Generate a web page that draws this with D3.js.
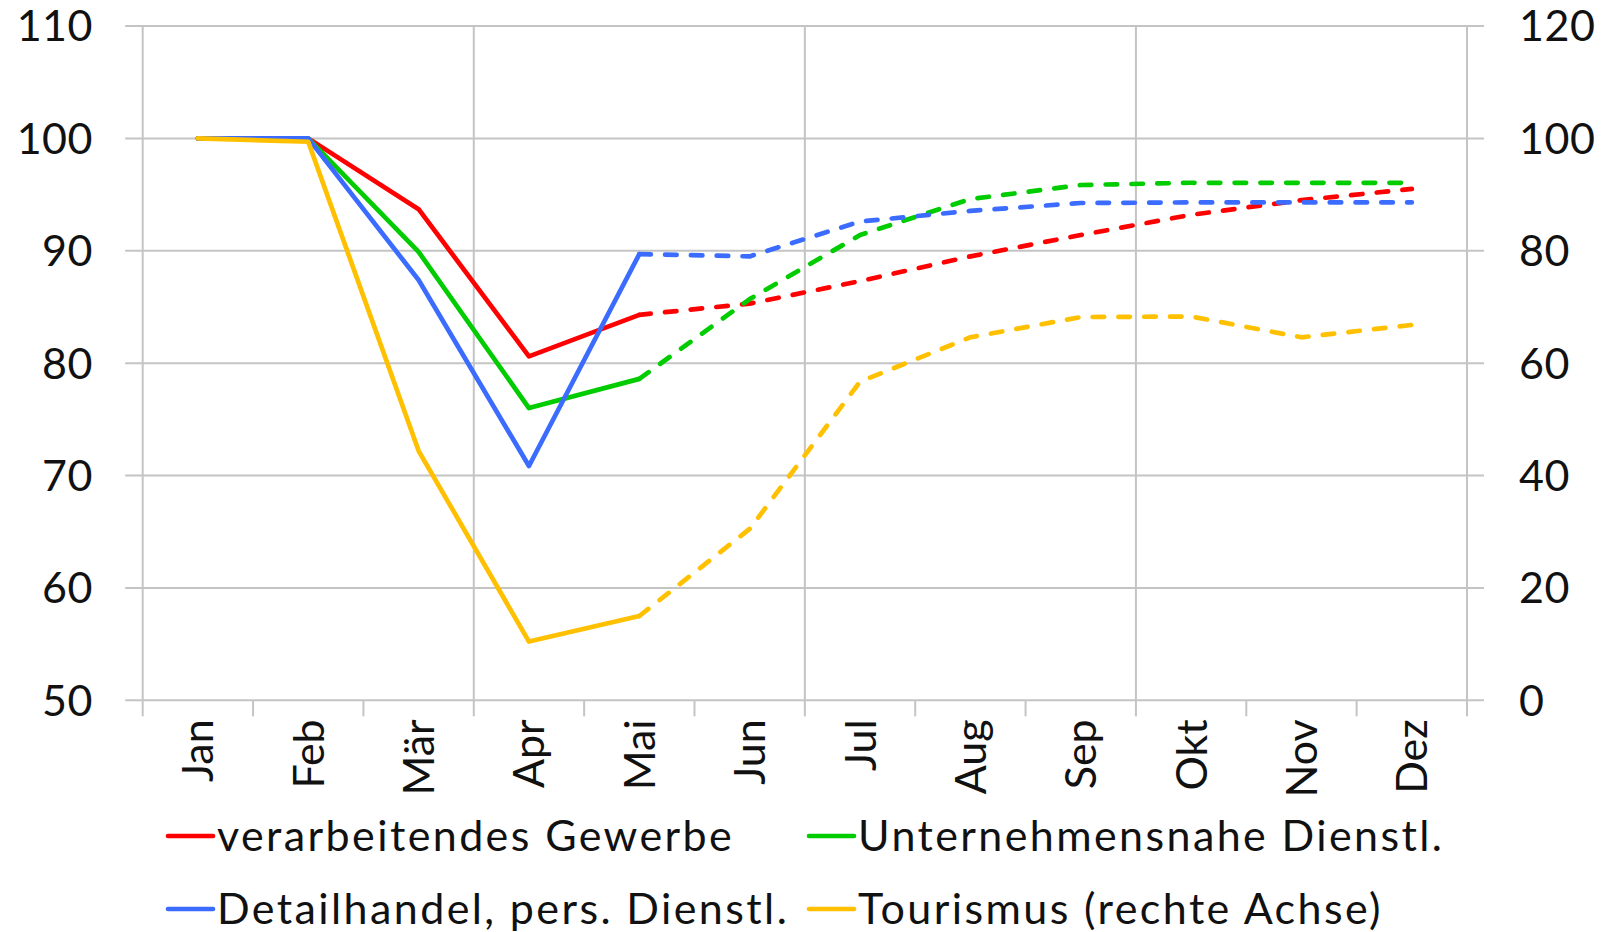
<!DOCTYPE html>
<html>
<head>
<meta charset="utf-8">
<script src="https://cdn.jsdelivr.net/npm/d3@7"></script>
<style>
  html, body { margin: 0; padding: 0; background: #fff; }
  svg { display: block; }
  text { font-family: Lato, "Open Sans", sans-serif; fill: #111; }
</style>
</head>
<body>
<svg id="chart" width="1603" height="932"></svg>
<script>
// Months (categories)
const months = ["Jan", "Feb", "Mär", "Apr", "Mai", "Jun", "Jul", "Aug", "Sep", "Okt", "Nov", "Dez"];

// Index values, Jan = 100 (left axis)
const gewerbe      = [100, 100, 93.7, 80.6, 84.3, 85.3, 87.3, 89.5, 91.4, 93.2, 94.5, 95.5];
const unternehmen  = [100, 100, 89.9, 76.0, 78.6, 85.7, 91.4, 94.6, 95.85, 96.05, 96.05, 96.05];
const detailhandel = [100, 100, 87.4, 70.85, 89.7, 89.5, 92.6, 93.55, 94.25, 94.3, 94.3, 94.3];
// Tourism index (right axis)
const tourismus    = [100, 99.4, 44.4, 10.45, 15.0, 30.5, 56.7, 64.6, 68.2, 68.3, 64.6, 66.8];

// Index of the last observed month; later months are projections
const lastActual = 4;

const leftTicks  = [50, 60, 70, 80, 90, 100, 110];
const rightTicks = [0, 20, 40, 60, 80, 100, 120];

const seriesNames = ["verarbeitendes Gewerbe", "Unternehmensnahe Dienstl.", "Detailhandel, pers. Dienstl.", "Tourismus (rechte Achse)"];

const svg = d3.select("#chart");

const plot = { left: 142.7, right: 1467, top: 26, bottom: 700.3 };
const gridColor = "#c4c4c4";
const lineWidth = 4.7;

const x = d3.scaleBand().domain(months).range([plot.left, plot.right]);
const yL = d3.scaleLinear().domain([50, 110]).range([plot.bottom, plot.top]);
const yR = d3.scaleLinear().domain([0, 120]).range([plot.bottom, plot.top]);

// Horizontal gridlines (shared by both axes), extended as tick marks on both sides
svg.append("g").selectAll("line").data(leftTicks).join("line")
  .attr("x1", plot.left - 17.5).attr("x2", plot.right + 17)
  .attr("y1", d => yL(d)).attr("y2", d => yL(d))
  .attr("stroke", gridColor).attr("stroke-width", 2);

// Vertical gridlines every quarter
const quarterEdges = [0, 3, 6, 9, 12].map(i => i < 12 ? x(months[i]) : x(months[11]) + x.bandwidth());
svg.append("g").selectAll("line").data(quarterEdges).join("line")
  .attr("x1", d => d).attr("x2", d => d)
  .attr("y1", plot.top).attr("y2", plot.bottom)
  .attr("stroke", gridColor).attr("stroke-width", 2);

// Category tick marks below the plot
const catEdges = months.map(m => x(m)).concat([x(months[11]) + x.bandwidth()]);
svg.append("g").selectAll("line").data(catEdges).join("line")
  .attr("x1", d => d).attr("x2", d => d)
  .attr("y1", plot.bottom).attr("y2", plot.bottom + 16)
  .attr("stroke", gridColor).attr("stroke-width", 2);

// Left axis labels
svg.append("g").selectAll("text").data(leftTicks).join("text")
  .attr("x", 93).attr("y", d => yL(d)).attr("dy", "0.36em")
  .attr("text-anchor", "end").attr("font-size", 43).attr("letter-spacing", 0.5)
  .text(d => d);

// Right axis labels
svg.append("g").selectAll("text").data(rightTicks).join("text")
  .attr("x", 1519).attr("y", d => yR(d)).attr("dy", "0.36em")
  .attr("text-anchor", "start").attr("font-size", 43).attr("letter-spacing", 0.5)
  .text(d => d);

// Month labels, rotated
svg.append("g").selectAll("text").data(months).join("text")
  .attr("transform", d => `translate(${x(d) + x.bandwidth() / 2},${plot.bottom + 19}) rotate(-90)`)
  .attr("dy", "0.36em")
  .attr("text-anchor", "end").attr("font-size", 43)
  .text(d => d);

const series = [
  { values: gewerbe,      color: "#ff0000", scale: yL },
  { values: unternehmen,  color: "#00cc00", scale: yL },
  { values: detailhandel, color: "#3b6cff", scale: yL },
  { values: tourismus,    color: "#ffc000", scale: yR }
];

const cx = i => x(months[i]) + x.bandwidth() / 2;

const lines = svg.append("g");
series.forEach(s => {
  const line = d3.line().x(d => cx(d.i)).y(d => s.scale(d.v));
  const pts = s.values.map((v, i) => ({ i, v }));
  // projection (dashed)
  lines.append("path")
    .attr("d", line(pts.slice(lastActual)))
    .attr("fill", "none").attr("stroke", s.color).attr("stroke-width", lineWidth)
    .attr("stroke-dasharray", "11.5 14.3").attr("stroke-linecap", "round")
    .attr("stroke-linejoin", "round");
});
series.forEach(s => {
  const line = d3.line().x(d => cx(d.i)).y(d => s.scale(d.v));
  const pts = s.values.map((v, i) => ({ i, v }));
  // observed (solid)
  lines.append("path")
    .attr("d", line(pts.slice(0, lastActual + 1)))
    .attr("fill", "none").attr("stroke", s.color).attr("stroke-width", lineWidth)
    .attr("stroke-linecap", "round").attr("stroke-linejoin", "round");
});

// Legend
const legendPos = [
  { x: 168, y: 836 }, { x: 809, y: 836 },
  { x: 168, y: 909 }, { x: 809, y: 909 }
];
const legend = svg.append("g");
seriesNames.forEach((name, k) => {
  const p = legendPos[k];
  legend.append("line")
    .attr("x1", p.x).attr("x2", p.x + 45).attr("y1", p.y).attr("y2", p.y)
    .attr("stroke", series[k].color).attr("stroke-width", lineWidth).attr("stroke-linecap", "round");
  legend.append("text")
    .attr("x", p.x + 49).attr("y", p.y).attr("dy", "0.36em")
    .attr("font-size", 43).attr("letter-spacing", 2.4)
    .text(name);
});
</script>
</body>
</html>
